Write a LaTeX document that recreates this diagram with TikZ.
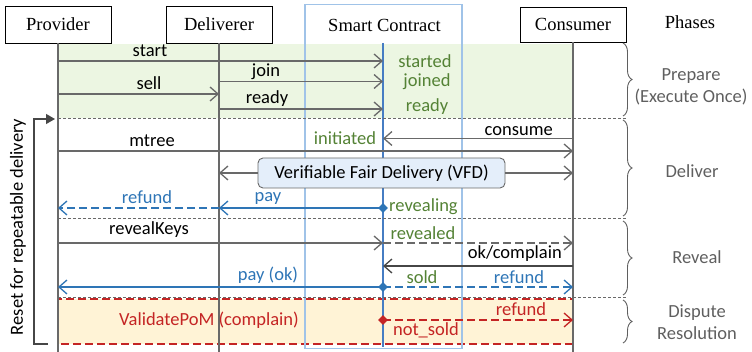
\documentclass[tikz,border=0pt]{standalone}
\usepackage{fontspec}
\setmainfont{Liberation Serif}
\newfontfamily\carlito{Carlito}
\usetikzlibrary{arrows.meta,decorations.pathreplacing,shapes.geometric}

\definecolor{lineGray}{RGB}{105,105,105}
\definecolor{darkGray}{RGB}{70,70,70}
\definecolor{txtGreen}{RGB}{84,130,53}
\definecolor{msgBlue}{RGB}{46,117,182}
\definecolor{msgRed}{RGB}{196,36,36}
\definecolor{prepBg}{RGB}{236,246,226}
\definecolor{dispBg}{RGB}{255,243,214}
\definecolor{vfdBg}{RGB}{228,238,250}
\definecolor{scFrame}{RGB}{160,195,232}
\definecolor{scLine}{RGB}{70,125,195}
\definecolor{phaseGray}{RGB}{95,95,95}

\begin{document}
\begin{tikzpicture}[x=1pt,y=-1pt,
  font=\fontsize{18.5}{22}\selectfont,
  actor/.style={draw, line width=0.9pt, minimum width=106pt, minimum height=37pt, inner sep=0},
  life/.style={draw=lineGray, line width=1.2pt},
  tipb/.style={-{Straight Barb[length=8pt,width=14pt]}},
  msg/.style={draw=lineGray, line width=1.3pt, tipb},
  bluemsg/.style={draw=msgBlue, line width=1.3pt, tipb},
  redmsg/.style={draw=msgRed, line width=1.3pt, tipb},
  dsh/.style={dash pattern=on 8pt off 4pt},
  sep/.style={draw=lineGray, line width=0.8pt, dash pattern=on 3pt off 2pt},
  lbl/.style={font=\carlito\fontsize{18.5}{22}\selectfont, inner sep=0, anchor=base},
  state/.style={lbl, text=txtGreen},
  bluelbl/.style={lbl, text=msgBlue},
  redlbl/.style={lbl, text=msgRed},
  phase/.style={font=\carlito\fontsize{18.5}{22}\selectfont, text=phaseGray, align=center, inner sep=0},
  phbrace/.style={draw=phaseGray, line width=0.9pt, decorate, decoration={brace, amplitude=9pt}},
  dmark/.style={diamond, inner sep=0, minimum size=10pt},
]
\useasboundingbox (0,0) rectangle (752,352);

% rows of the sequence
\coordinate (rStart) at (0,61);
\coordinate (rJoin) at (0,81.5);
\coordinate (rSell) at (0,94);
\coordinate (rReady) at (0,109);
\coordinate (rSep1) at (0,118);
\coordinate (rConsume) at (0,138.5);
\coordinate (rMtree) at (0,151);
\coordinate (rPay) at (0,208);
\coordinate (rSep2) at (0,218);
\coordinate (rKeys) at (0,243);
\coordinate (rOk) at (0,266);
\coordinate (rPayOk) at (0,287);
\coordinate (rSep3) at (0,297);
\coordinate (rDisp) at (0,320);
\coordinate (rBottom) at (0,352);
\coordinate (sepEnd) at (627,0);

% phase backgrounds
\fill[prepBg] (58,44) rectangle (573,118);
\draw[msgRed, line width=1.3pt, dsh, fill=dispBg] (58,299) rectangle (573,344);

% smart contract frame
\node[draw=scFrame, line width=1.2pt, minimum width=157pt, minimum height=344pt, anchor=north, inner sep=0] (sc) at (383.5,4) {};
\node[anchor=base] (sct) at (384.5,32) {Smart Contract};
\coordinate (S) at (383,43);
\coordinate (Send) at (383,347);

% participants
\node[actor] (prov) at (58,24.5) {Provider};
\node[actor] (deli) at (219,24.5) {Deliverer};
\node[actor, minimum height=35pt] (cons) at (573,24.5) {Consumer};
\node[anchor=base] (phases) at (690,29) {Phases};

% lifelines
\draw[life] (prov.south) -- (prov.south |- rBottom);
\draw[life] (deli.south) -- (deli.south |- rBottom);
\draw[life] (cons.south) -- (cons.south |- rBottom);
\draw[draw=scLine, line width=1.2pt] (S) -- (Send);

% phase separators
\draw[sep] (prov.south |- rSep1) -- (sepEnd |- rSep1);
\draw[sep] (prov.south |- rSep2) -- (sepEnd |- rSep2);
\draw[sep] (prov.south |- rSep3) -- (sepEnd |- rSep3);

% prepare
\draw[msg] (prov.south |- rStart) -- (S |- rStart);
\draw[msg] (deli.south |- rJoin) -- (S |- rJoin);
\draw[msg] (prov.south |- rSell) -- (deli.south |- rSell);
\draw[msg] (deli.south |- rReady) -- (S |- rReady);
\node[lbl] (lStart) at (150,57) {start};
\node[lbl] (lJoin) at (266,77) {join};
\node[lbl] (lSell) at (149,90) {sell};
\node[lbl] (lReady) at (267,104) {ready};
\node[state] (sStarted) at (425,68) {started};
\node[state] (sJoined) at (427,87) {joined};
\node[state] (sReady) at (427,112) {ready};

% deliver
\draw[msg] (cons.south |- rConsume) -- (S |- rConsume);
\node[lbl, anchor=base east] (lConsume) at (553,135.5) {consume};
\node[state] (sInit) at (345,145) {initiated};
\draw[msg] (prov.south |- rMtree) -- (cons.south |- rMtree);
\node[lbl] (lMtree) at (152,147) {mtree};
\node[draw=lineGray, line width=0.9pt, fill=vfdBg, rounded corners=5pt, minimum width=247pt, minimum height=30pt, inner sep=0,
      font=\carlito\fontsize{18.5}{22}\selectfont] (vfd) at (381.5,173) {Verifiable Fair Delivery (VFD)};
\draw[msg] (vfd.west) -- (deli.south |- vfd.west);
\draw[msg] (vfd.east) -- (cons.south |- vfd.east);
\node[dmark] (dPay) at (S |- rPay) {};
\draw[bluemsg] (dPay.center) -- (deli.south |- rPay);
\draw[bluemsg, dsh] (deli.south |- rPay) -- (prov.south |- rPay);
\node[dmark, fill=msgBlue] at (dPay) {};
\node[bluelbl] (lPay) at (268,202) {pay};
\node[bluelbl] (lRefund1) at (147,204) {refund};
\node[state, anchor=base west] (sRevealing) at (389,211.5) {revealing};

% reveal
\draw[msg] (prov.south |- rKeys) -- (S |- rKeys);
\draw[msg, dsh] (S |- rKeys) -- (cons.south |- rKeys);
\node[lbl] (lKeys) at (149,235) {revealKeys};
\node[state] (sRevealed) at (423,240) {revealed};
\draw[msg, draw=darkGray] (cons.south |- rOk) -- (S |- rOk);
\node[lbl, anchor=base east] (lOk) at (562,259) {ok/complain};
\node[dmark] (dPayOk) at (S |- rPayOk) {};
\draw[bluemsg] (dPayOk.center) -- (prov.south |- rPayOk);
\draw[bluemsg, dsh] (dPayOk.center) -- (cons.south |- rPayOk);
\node[dmark, fill=msgBlue] at (dPayOk) {};
\node[bluelbl] (lPayOk) at (268,281) {pay (ok)};
\node[state] (sSold) at (422,284) {sold};
\node[bluelbl] (lRefund2) at (519,284) {refund};

% dispute resolution
\node[redlbl] (lPoM) at (209,326) {ValidatePoM (complain)};
\node[dmark] (dDisp) at (S |- rDisp) {};
\draw[redmsg, dsh] (dDisp.center) -- (cons.south |- rDisp);
\node[dmark, fill=msgRed] at (dDisp) {};
\node[redlbl] (lRefund3) at (521,316) {refund};
\node[redlbl] (sNotSold) at (426,336) {not\_sold};

% phase braces and names
\draw[phbrace] (623,43) -- (623,116);
\draw[phbrace] (623,120) -- (623,216);
\draw[phbrace] (623,221) -- (623,295);
\draw[phbrace] (623,300) -- (623,343);
\node[phase] (pPrep) at (691,87) {Prepare\\(Execute Once)};
\node[phase] (pDeliver) at (692,171) {Deliver};
\node[phase] (pReveal) at (697,257) {Reveal};
\node[phase] (pDispute) at (697,322) {Dispute\\Resolution};

% reset loop
\coordinate (rsFoot) at (48,344);
\coordinate (rsLow) at (34,344);
\coordinate (rsHigh) at (34,119);
\coordinate (rsHead) at (55,119);
\draw[darkGray, line width=1.2pt, -{Triangle[length=9pt,width=10pt]}] (rsFoot) -- (rsLow) -- (rsHigh) -- (rsHead);
\node[lbl, anchor=center, rotate=90] (reset) at (18,227) {Reset for repeatable delivery};
\end{tikzpicture}
\end{document}
